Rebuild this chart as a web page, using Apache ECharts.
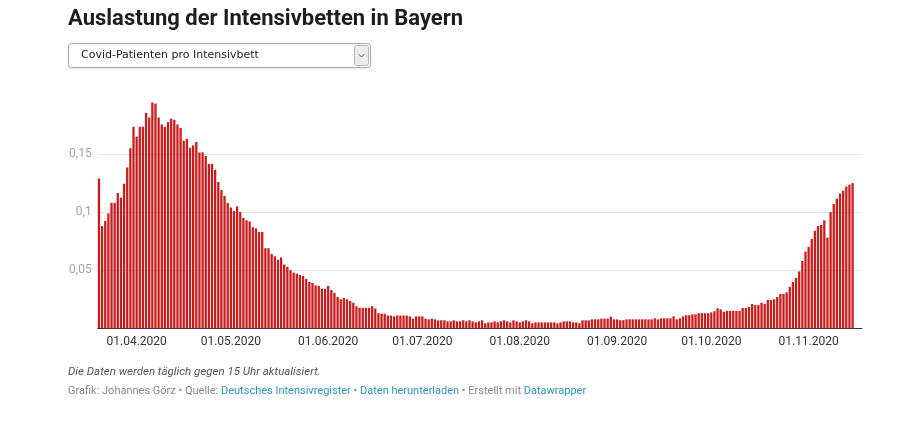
<!DOCTYPE html>
<html>
<head>
<meta charset="utf-8">
<script src="https://cdn.jsdelivr.net/npm/echarts@6/dist/echarts.min.js"></script>
<style>
html,body{margin:0;padding:0;background:#fff;}
#chart{width:922px;height:442px;}
</style>
</head>
<body>
<div id="chart"></div>
<script>
// ---- data ----
var startDate = '2020-03-20';
var values = [
0.129,0.088,0.0925,0.099,0.108,0.108,0.1165,0.1125,0.1245,0.1385,
0.155,0.1735,0.165,0.1735,0.1735,0.1855,0.1815,0.1945,0.1935,0.1815,
0.1755,0.1735,0.1775,0.1805,0.1795,0.1755,0.1725,0.1615,0.163,0.1555,
0.1575,0.1605,0.1515,0.1515,0.1485,0.1415,0.1415,0.1365,0.126,0.119,
0.114,0.108,0.104,0.101,0.105,0.100,0.095,0.093,0.092,0.087,
0.086,0.083,0.083,0.069,0.069,0.064,0.062,0.059,0.061,0.055,
0.053,0.050,0.048,0.047,0.046,0.045,0.0425,0.040,0.039,0.037,
0.0365,0.034,0.034,0.0365,0.033,0.0305,0.027,0.025,0.026,0.025,
0.0235,0.022,0.019,0.0177,0.0177,0.0177,0.0177,0.019,0.017,0.013,
0.0126,0.0126,0.011,0.011,0.0103,0.011,0.011,0.011,0.011,0.0103,
0.0083,0.0103,0.0103,0.0103,0.0083,0.0077,0.0083,0.0077,0.0069,0.0069,
0.0069,0.006,0.006,0.0069,0.006,0.006,0.0069,0.006,0.0069,0.006,
0.0051,0.006,0.0069,0.0043,0.0051,0.0051,0.006,0.0051,0.006,0.0069,
0.006,0.0051,0.0069,0.006,0.0051,0.006,0.0069,0.006,0.0043,0.0051,
0.0051,0.0051,0.0051,0.0051,0.0051,0.0051,0.0043,0.0051,0.006,0.006,
0.006,0.0051,0.0051,0.0043,0.0069,0.0069,0.0069,0.0077,0.0077,0.0077,
0.0083,0.0083,0.0083,0.010,0.0077,0.0077,0.007,0.007,0.0077,0.0077,
0.0077,0.0077,0.0077,0.0077,0.0077,0.0077,0.0077,0.0086,0.0077,0.0086,
0.0086,0.0086,0.0086,0.0103,0.0077,0.0086,0.0103,0.0113,0.0113,0.012,
0.012,0.013,0.013,0.013,0.013,0.0137,0.0147,0.0172,0.0163,0.0142,
0.015,0.015,0.015,0.015,0.015,0.0175,0.0175,0.0184,0.021,0.020,
0.020,0.022,0.021,0.0244,0.0244,0.025,0.027,0.0296,0.0296,0.031,
0.0356,0.040,0.0434,0.049,0.058,0.066,0.070,0.077,0.084,0.088,
0.089,0.093,0.078,0.100,0.107,0.1116,0.116,0.1185,0.122,0.1237,
0.125
];
var tickLabels = ['01.04.2020','01.05.2020','01.06.2020','01.07.2020','01.08.2020','01.09.2020','01.10.2020','01.11.2020'];
var yTicks = [0.05, 0.1, 0.15];
var titleText = 'Auslastung der Intensivbetten in Bayern';
var dropdownText = 'Covid-Patienten pro Intensivbett';
var noteText = 'Die Daten werden täglich gegen 15 Uhr aktualisiert.';

// ---- build categories (dates) ----
function pad(n){return n<10?'0'+n:''+n;}
var categories = [];
(function(){
  var d = new Date(startDate + 'T12:00:00Z');
  for (var i = 0; i < values.length; i++) {
    categories.push(pad(d.getUTCDate()) + '.' + pad(d.getUTCMonth()+1) + '.' + d.getUTCFullYear());
    d.setUTCDate(d.getUTCDate() + 1);
  }
})();
var tickIdx = tickLabels.map(function(l){ return categories.indexOf(l); });
var seriesData = values.map(function(v, i){ return [i, v]; });

var chart = echarts.init(document.getElementById('chart'), null, {renderer: 'canvas'});
var FONT = 'Roboto';
var option = {
  animation: false,
  backgroundColor: '#ffffff',
  grid: {left: 97.7, right: 60, top: 96, bottom: 113.7, containLabel: false},
  xAxis: {
    type: 'value',
    min: -0.4,
    max: 243,
    splitLine: {show: false},
    axisTick: {show: false},
    axisLine: {show: true, onZero: true, lineStyle: {color: '#333333', width: 1}},
    axisLabel: {
      customValues: tickIdx,
      formatter: function(v){ var k = tickIdx.indexOf(Math.round(v)); return k >= 0 ? tickLabels[k] : ''; },
      color: '#333333', fontFamily: FONT, fontSize: 12, margin: 8
    }
  },
  yAxis: {
    type: 'value',
    min: 0, max: 0.2, interval: 0.05,
    axisLine: {show: false},
    axisTick: {show: false},
    splitLine: {show: true, showMinLine: false, showMaxLine: false, lineStyle: {color: '#e3e3e3', width: 1}},
    axisLabel: {
      customValues: yTicks,
      formatter: function(v){ return String(Math.round(v*100)/100).replace('.', ','); },
      color: '#a3a3a3', fontFamily: FONT, fontSize: 12, margin: 6
    }
  },
  series: [{
    type: 'bar',
    data: seriesData,
    barWidth: 2.3,
    itemStyle: {color: '#c71e1d'},
    silent: true
  }],
  graphic: [
    {type: 'text', left: 68, top: 8, style: {text: titleText, font: 'bold 22px Roboto', fill: '#1d1d1d'}},
    {type: 'rect', shape: {x: 68.5, y: 43.5, width: 302, height: 24, r: 3}, style: {fill: '#ffffff', stroke: '#aaaaaa', lineWidth: 1, shadowBlur: 2, shadowColor: 'rgba(0,0,0,0.08)', shadowOffsetY: 1}},
    {type: 'rect', shape: {x: 354.5, y: 45.5, width: 14, height: 20, r: 2}, style: {fill: '#ececec', stroke: '#b5b5b5', lineWidth: 1}},
    {type: 'polyline', shape: {points: [[358.5, 54], [361.5, 57], [364.5, 54]]}, style: {stroke: '#666666', lineWidth: 1, fill: null}},
    {type: 'text', left: 81, top: 49.5, style: {text: dropdownText, font: '11px "DejaVu Sans"', fill: '#222222'}},
    {type: 'text', left: 68, top: 366, style: {text: noteText, font: 'italic 11.5px Roboto', fill: '#555555'}},
    {type: 'text', left: 68, top: 385.5, style: {
      text: '{g|Grafik: Johannes Görz • Quelle: }{l|Deutsches Intensivregister}{g| • }{l|Daten herunterladen}{g| • Erstellt mit }{l|Datawrapper}',
      font: '11px Roboto',
      rich: {
        g: {fill: '#888888', font: '11px Roboto'},
        l: {fill: '#2a93bf', font: '11px Roboto'}
      }
    }}
  ]
};
chart.setOption(option);
</script>
</body>
</html>
